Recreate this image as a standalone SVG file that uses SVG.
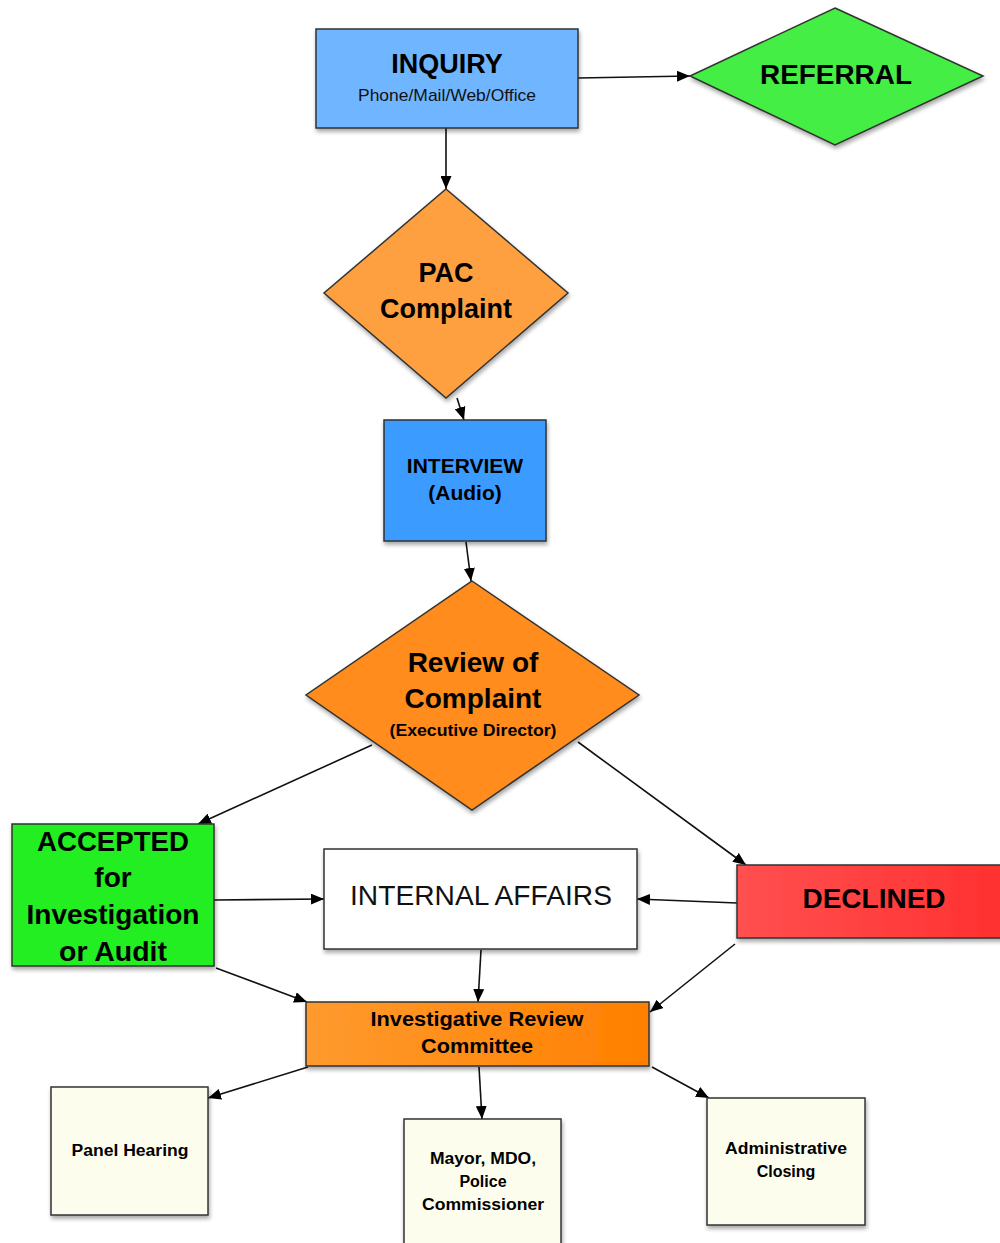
<svg xmlns="http://www.w3.org/2000/svg" width="1000" height="1243" viewBox="0 0 1000 1243">
<defs>
<marker id="ah" viewBox="0 0 13 11" refX="13" refY="5.5" markerWidth="13" markerHeight="11" markerUnits="userSpaceOnUse" orient="auto">
<path d="M0,0 L13,5.5 L0,11 Z" fill="#000"/>
</marker>
<filter id="sh" x="-10%" y="-10%" width="130%" height="130%">
<feGaussianBlur in="SourceAlpha" stdDeviation="2"/>
<feOffset dx="1" dy="3" result="b"/>
<feComponentTransfer><feFuncA type="linear" slope="0.35"/></feComponentTransfer>
<feMerge><feMergeNode/><feMergeNode in="SourceGraphic"/></feMerge>
</filter>
<linearGradient id="gOr" x1="0" y1="0" x2="1" y2="0"><stop offset="0" stop-color="#ff9a2e"/><stop offset="1" stop-color="#ff8000"/></linearGradient>
<linearGradient id="gRed" x1="0" y1="0" x2="1" y2="0"><stop offset="0" stop-color="#ff5050"/><stop offset="1" stop-color="#ff3030"/></linearGradient>
</defs>
<style>
.sh{stroke:#333;stroke-width:1.5;filter:url(#sh)}
.t{font-family:"Liberation Sans",Arial,sans-serif;font-weight:bold;fill:#000;text-anchor:middle}
.n{font-family:"Liberation Sans",Arial,sans-serif;fill:#111;text-anchor:middle}
.c{stroke:#111;stroke-width:1.6;fill:none;marker-end:url(#ah)}
</style>
<rect width="1000" height="1243" fill="#fff"/>
<g id="connectors">
<line class="c" x1="578" y1="78" x2="690" y2="76"/>
<line class="c" x1="446" y1="128" x2="446" y2="189"/>
<line class="c" x1="457" y1="398" x2="464" y2="420"/>
<line class="c" x1="466" y1="542" x2="471" y2="581"/>
<line class="c" x1="372" y1="745" x2="198" y2="824"/>
<line class="c" x1="578" y1="742" x2="746" y2="865"/>
<line class="c" x1="214" y1="900" x2="324" y2="899"/>
<line class="c" x1="737" y1="903" x2="637" y2="899"/>
<line class="c" x1="481" y1="950" x2="478" y2="1002"/>
<line class="c" x1="216" y1="968" x2="307" y2="1002"/>
<line class="c" x1="735" y1="944" x2="650" y2="1012"/>
<line class="c" x1="308" y1="1067" x2="208" y2="1098"/>
<line class="c" x1="479" y1="1067" x2="482" y2="1119"/>
<line class="c" x1="652" y1="1067" x2="709" y2="1098"/>
</g>
<g id="inquiry">
<rect class="sh" x="316" y="29" width="262" height="99" fill="#6fb5ff"/>
<text class="t" x="447" y="73" font-size="27">INQUIRY</text>
<text class="n" x="447" y="101" font-size="17" textLength="178" lengthAdjust="spacingAndGlyphs">Phone/Mail/Web/Office</text>
</g>
<g id="referral">
<polygon class="sh" points="835,8 983,76 835,145 690,76" fill="#44ee44"/>
<text class="t" x="836" y="84" font-size="27" textLength="152" lengthAdjust="spacingAndGlyphs">REFERRAL</text>
</g>
<g id="pac">
<polygon class="sh" points="446,189 568,293 446,398 324,293" fill="#ffa040"/>
<text class="t" x="446" y="282" font-size="27">PAC</text>
<text class="t" x="446" y="318" font-size="27">Complaint</text>
</g>
<g id="interview">
<rect class="sh" x="384" y="420" width="162" height="121" fill="#3a9bff"/>
<text class="t" x="465" y="473" font-size="21">INTERVIEW</text>
<text class="t" x="465" y="500" font-size="21">(Audio)</text>
</g>
<g id="review">
<polygon class="sh" points="472,581 639,695 472,810 306,695" fill="#ff8c1a"/>
<text class="t" x="473" y="672" font-size="28">Review of</text>
<text class="t" x="473" y="708" font-size="28">Complaint</text>
<text class="t" x="473" y="736" font-size="16" textLength="167" lengthAdjust="spacingAndGlyphs">(Executive Director)</text>
</g>
<g id="accepted">
<rect class="sh" x="12" y="824" width="202" height="142" fill="#22ee22"/>
<text class="t" x="113" y="851" font-size="28" textLength="152" lengthAdjust="spacingAndGlyphs">ACCEPTED</text>
<text class="t" x="113" y="887" font-size="28">for</text>
<text class="t" x="113" y="924" font-size="28" textLength="173" lengthAdjust="spacingAndGlyphs">Investigation</text>
<text class="t" x="113" y="961" font-size="28" textLength="108" lengthAdjust="spacingAndGlyphs">or Audit</text>
</g>
<g id="internal-affairs">
<rect class="sh" x="324" y="849" width="313" height="100" fill="#fff" stroke="#666"/>
<text class="n" x="481" y="905" font-size="28" textLength="262" lengthAdjust="spacingAndGlyphs">INTERNAL AFFAIRS</text>
</g>
<g id="declined">
<rect class="sh" x="737" y="865" width="270" height="73" fill="url(#gRed)"/>
<text class="t" x="874" y="908" font-size="27" textLength="143" lengthAdjust="spacingAndGlyphs">DECLINED</text>
</g>
<g id="irc">
<rect class="sh" x="306" y="1002" width="343" height="64" fill="url(#gOr)"/>
<text class="t" x="477" y="1026" font-size="20" textLength="213" lengthAdjust="spacingAndGlyphs">Investigative Review</text>
<text class="t" x="477" y="1053" font-size="20" textLength="112" lengthAdjust="spacingAndGlyphs">Committee</text>
</g>
<g id="panel-hearing">
<rect class="sh" x="51" y="1087" width="157" height="128" fill="#fdfdee" stroke="#555"/>
<text class="t" x="130" y="1156" font-size="16" textLength="117" lengthAdjust="spacingAndGlyphs">Panel Hearing</text>
</g>
<g id="mayor">
<rect class="sh" x="404" y="1119" width="157" height="130" fill="#fdfdee" stroke="#555"/>
<text class="t" x="483" y="1164" font-size="16" textLength="106" lengthAdjust="spacingAndGlyphs">Mayor, MDO,</text>
<text class="t" x="483" y="1187" font-size="16">Police</text>
<text class="t" x="483" y="1210" font-size="16" textLength="122" lengthAdjust="spacingAndGlyphs">Commissioner</text>
</g>
<g id="admin-closing">
<rect class="sh" x="707" y="1098" width="158" height="127" fill="#fdfdee" stroke="#555"/>
<text class="t" x="786" y="1154" font-size="16" textLength="122" lengthAdjust="spacingAndGlyphs">Administrative</text>
<text class="t" x="786" y="1177" font-size="16">Closing</text>
</g>
</svg>
